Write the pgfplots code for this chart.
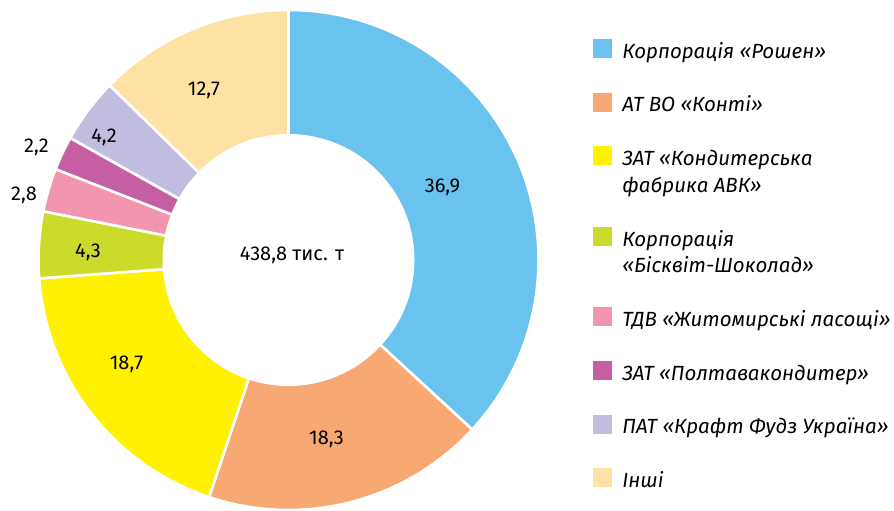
\documentclass[border=0pt]{standalone}
\usepackage{pgfplots}
\pgfplotsset{compat=1.18}
\usepackage{fontspec}
\setmainfont{Fira Sans}
\definecolor{c1}{HTML}{69C3EE}
\definecolor{c2}{HTML}{F7A873}
\definecolor{c3}{HTML}{FFF100}
\definecolor{c4}{HTML}{CCDB2B}
\definecolor{c5}{HTML}{F296AF}
\definecolor{c6}{HTML}{C55EA2}
\definecolor{c7}{HTML}{C1BDDF}
\definecolor{c8}{HTML}{FFE1A4}
\tikzset{lbl/.style={anchor=base, font=\fontsize{20bp}{24bp}\selectfont, inner sep=0pt}}
\newcommand\gap{\addlegendimage{empty legend}\addlegendentry{\mbox{}}}
\begin{document}
\begin{tikzpicture}
\useasboundingbox (0,0) rectangle (894bp,511bp);
\def\total{100.1}
\gdef\cum{0}
\foreach \v [count=\i] in {36.9,18.3,18.7,4.3,2.8,2.2,4.2,12.7}{%
  \pgfmathsetmacro\angS{90-(\cum/\total)*360}%
  \pgfmathsetmacro\newcum{\cum+\v}%
  \pgfmathsetmacro\angE{90-(\newcum/\total)*360}%
  \expandafter\xdef\csname wa\i\endcsname{\angS}%
  \expandafter\xdef\csname wb\i\endcsname{\angE}%
  \xdef\cum{\newcum}%
}
\begin{axis}[at={(0,0)}, anchor=south west, width=894bp, height=511bp,
  scale only axis, xmin=0, xmax=894, ymin=0, ymax=511, hide axis, clip=false,
  legend cell align=left,
  legend style={at={(axis cs:593,472)}, anchor=north west, draw=none, fill=none,
    inner sep=0pt, outer sep=0pt, row sep=0pt, column sep=11bp,
    nodes={inner sep=0pt, outer sep=0pt, anchor=base west, text height=19bp, text depth=7.75bp,
      font=\fontsize{20.5bp}{26bp}\selectfont\itshape}},
  legend image code/.code={\fill[#1] (0bp,1bp) rectangle (18bp,19bp);}
]
\pgfplotsinvokeforeach{1,...,8}{%
  \fill[c#1, draw=white, line width=2.6bp] (axis cs:288.5,251) -- ++(\csname wa#1\endcsname:250bp)
    arc[start angle=\csname wa#1\endcsname, end angle=\csname wb#1\endcsname, radius=250bp] -- cycle;
}
\fill[white] (axis cs:288.5,251) circle[radius=126bp];
\addlegendimage{c1}\addlegendentry{Корпорація «Рошен»}
\gap
\addlegendimage{c2}\addlegendentry{АТ ВО «Конті»}
\gap
\addlegendimage{c3}\addlegendentry{ЗАТ «Кондитерська}
\addlegendimage{empty legend}\addlegendentry{фабрика АВК»}
\gap
\addlegendimage{c4}\addlegendentry{Корпорація}
\addlegendimage{empty legend}\addlegendentry{«Бісквіт-Шоколад»}
\gap
\addlegendimage{c5}\addlegendentry{ТДВ «Житомирські ласощі»}
\gap
\addlegendimage{c6}\addlegendentry{ЗАТ «Полтавакондитер»}
\gap
\addlegendimage{c7}\addlegendentry{ПАТ «Крафт Фудз Україна»}
\gap
\addlegendimage{c8}\addlegendentry{Інші}
\node[lbl] at (axis cs:442.5,318) {36,9};
\node[lbl] at (axis cs:326.5,66) {18,3};
\node[lbl] at (axis cs:126.5,141) {18,7};
\node[lbl] at (axis cs:88,253) {4,3};
\node[lbl] at (axis cs:24,310.3) {2,8};
\node[lbl] at (axis cs:36.5,358) {2,2};
\node[lbl] at (axis cs:104,368) {4,2};
\node[lbl] at (axis cs:204,415) {12,7};
\node[lbl] at (axis cs:292,250.3) {438,8 тис. т};
\end{axis}
\end{tikzpicture}
\end{document}
